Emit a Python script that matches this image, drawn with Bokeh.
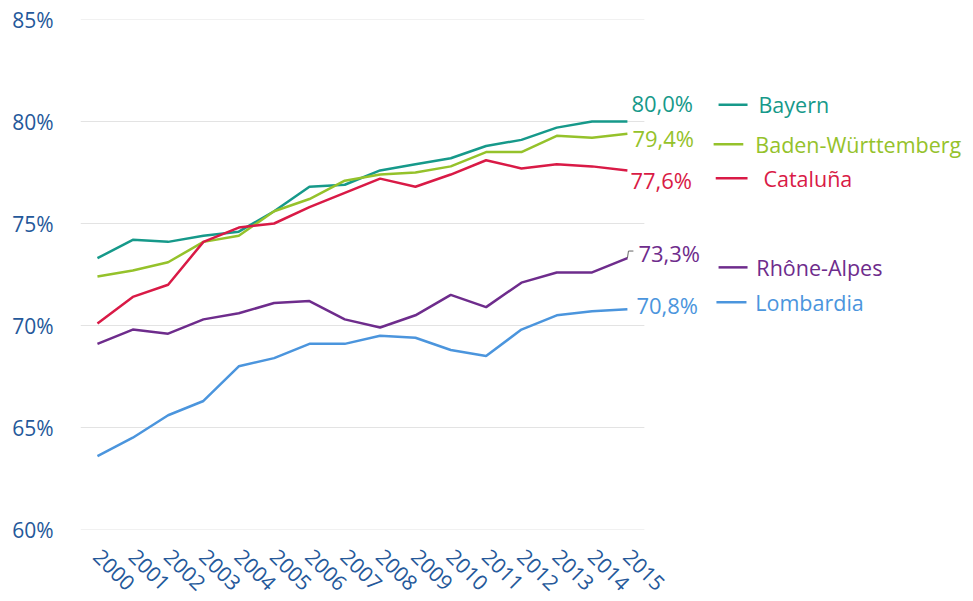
import math
from bokeh.plotting import figure
from bokeh.models import FixedTicker, Range1d
from bokeh.embed import file_html
from bokeh.resources import INLINE
from bokeh.core.properties import value

years = list(range(2000, 2016))
bayern = [73.3, 74.2, 74.1, 74.4, 74.6, 75.6, 76.8, 76.9, 77.6, 77.9, 78.2, 78.8, 79.1, 79.7, 80.0, 80.0]
baden = [72.4, 72.7, 73.1, 74.1, 74.4, 75.6, 76.2, 77.1, 77.4, 77.5, 77.8, 78.5, 78.5, 79.3, 79.2, 79.4]
cataluna = [70.1, 71.4, 72.0, 74.1, 74.8, 75.0, 75.8, 76.5, 77.2, 76.8, 77.4, 78.1, 77.7, 77.9, 77.8, 77.6]
rhone = [69.1, 69.8, 69.6, 70.3, 70.6, 71.1, 71.2, 70.3, 69.9, 70.5, 71.5, 70.9, 72.1, 72.6, 72.6, 73.3]
lombardia = [63.6, 64.5, 65.6, 66.3, 68.0, 68.4, 69.1, 69.1, 69.5, 69.4, 68.8, 68.5, 69.8, 70.5, 70.7, 70.8]

names = ["Bayern", "Baden-Württemberg", "Cataluña", "Rhône-Alpes", "Lombardia"]
series = [bayern, baden, cataluna, rhone, lombardia]
colors = ["#16998a", "#95c22b", "#d91a46", "#6e2c8c", "#4b95dd"]
y_ticks = [60, 65, 70, 75, 80, 85]

# layout (label placement) constants
val_label_y = [80.9, 79.18, 77.12, 73.54, 70.99]
val_label_dx = [4, 5, 3, 11, 9]
legend_y = [80.82, 78.88, 77.22, 72.85, 71.14]
legend_line_x = [(2017.58, 2018.40), (2017.44, 2018.28), (2017.50, 2018.40), (2017.58, 2018.40), (2017.52, 2018.37)]
legend_text_x = [2018.71, 2018.62, 2018.85, 2018.65, 2018.62]

FONT = "Open Sans"
AXIS_COLOR = "#24589a"

x0, x1 = 1999.52, 2015.48
frame_w = 893
px_per_year = 35.33
p = figure(width=973, height=600, frame_width=frame_w, frame_height=510,
           x_range=Range1d(x0, x0 + frame_w / px_per_year), y_range=Range1d(60, 85),
           output_backend="svg", toolbar_location=None,
           min_border_left=80, min_border_top=19, min_border_bottom=71, min_border_right=0)
p.outline_line_color = None
p.xgrid.visible = False
p.ygrid.visible = False

# gridlines limited to plot data area
p.segment(x0=[x0] * len(y_ticks), x1=[x1] * len(y_ticks), y0=y_ticks, y1=y_ticks,
          line_color="#e3e3e3", line_width=1)

for s, c in zip(series, colors):
    p.line(years, s, line_color=c, line_width=2.5)

# value labels at end
for s, c, ly, dx in zip(series, colors, val_label_y, val_label_dx):
    p.text(x=[years[-1]], y=[ly], text=[f"{s[-1]:.1f}%".replace(".", ",")],
           text_color=c, text_font=value(FONT), text_font_size="22px",
           text_align="left", text_baseline="middle", x_offset=dx)

# small leader for Rhône-Alpes
p.line([years[-1], years[-1] + 0.03, years[-1] + 0.17], [rhone[-1], rhone[-1] + 0.35, rhone[-1] + 0.35],
       line_color="#666666", line_width=1)

# legend
for n, c, ly, (lx0, lx1), tx in zip(names, colors, legend_y, legend_line_x, legend_text_x):
    p.line([lx0, lx1], [ly, ly], line_color=c, line_width=2.5)
    p.text(x=[tx], y=[ly], text=[n], text_color=c, text_font=value(FONT), text_font_size="21.5px",
           text_align="left", text_baseline="middle")

p.yaxis.ticker = FixedTicker(ticks=y_ticks)
p.yaxis.major_label_overrides = {t: f"{t}%" for t in y_ticks}
p.xaxis.ticker = FixedTicker(ticks=years)
p.xaxis.major_label_orientation = -math.pi / 4
for ax in (p.xaxis[0], p.yaxis[0]):
    ax.axis_line_color = None
    ax.major_tick_line_color = None
    ax.minor_tick_line_color = None
    ax.major_label_text_color = AXIS_COLOR
    ax.major_label_text_font = FONT
    ax.major_label_text_font_size = "21px"
p.yaxis.major_label_standoff = 21
p.xaxis.major_label_standoff = 17

open("out.html", "w").write(file_html(p, INLINE))
